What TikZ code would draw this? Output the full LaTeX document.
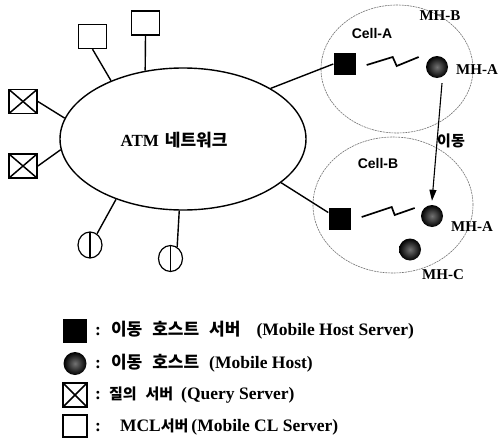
\documentclass[tikz,border=0pt]{standalone}
\usepackage{fontspec}
\setmainfont{Liberation Serif}
\newfontfamily\kr{Noto Sans CJK KR}
\newfontfamily\lsans{Liberation Sans}
\usetikzlibrary{shapes.geometric,arrows.meta,calc}
\newcommand{\krA}[1]{{\kr\bfseries\fontsize{17}{17}\selectfont #1}}
\newcommand{\krB}[1]{{\kr\bfseries\fontsize{15}{15}\selectfont #1}}
\begin{document}
\begin{tikzpicture}[x=1pt,y=-1pt,
  net/.style={draw, ellipse, line width=1.4pt, inner sep=0pt},
  link/.style={line width=1.4pt},
  mcl/.style={draw, line width=1.3pt, minimum width=28pt, minimum height=24pt, inner sep=0pt},
  qry/.style={mcl, line width=1.8pt, path picture={\draw[line width=1.5pt] (path picture bounding box.north west) -- (path picture bounding box.south east) (path picture bounding box.north east) -- (path picture bounding box.south west);}},
  oval/.style={draw, ellipse, line width=1.2pt, minimum width=24pt, minimum height=26pt, inner sep=0pt, path picture={\draw[line width=1.1pt] (path picture bounding box.north) -- (path picture bounding box.south);}},
  cell/.style={draw=black!55, ellipse, line width=0.6pt, dash pattern=on 2pt off 0.8pt, inner sep=0pt},
  mhs/.style={fill=black, minimum size=22pt, inner sep=0pt},
  mh/.style={circle, minimum size=22pt, inner sep=0pt, shade, shading=radial, inner color=black!55, outer color=black},
  lbl/.style={font=\bfseries\fontsize{15}{15}\selectfont, inner sep=0pt},
  slbl/.style={font=\lsans\bfseries\fontsize{14}{14}\selectfont, inner sep=0pt},
  leg/.style={font=\bfseries\fontsize{17.5}{17.5}\selectfont, inner sep=0pt, anchor=west},
  zig/.style={line width=1.7pt}
]
\useasboundingbox (0,0) rectangle (499,442);
\fill[white] (0,0) rectangle (499,442);

% ATM network
\node[net, minimum width=246pt, minimum height=142pt] (atm) at (183,139) {};
\node[lbl, font=\bfseries\fontsize{17}{17}\selectfont] (atmtxt) at (174,140) {ATM\hspace{6pt}\krA{네트워크}};

% MCL servers
\node[mcl] (m1) at (92.5,36.5) {};
\node[mcl] (m2) at (145.5,23) {};
% Query servers
\node[qry] (q1) at (23,101.5) {};
\node[qry] (q2) at (23,166) {};
% ovals
\node[oval] (o1) at (90,245) {};
\node[oval] (o2) at (170.5,258.5) {};

\draw[link] (m1.south) -- (atm.141.5);
\draw[link] (m2.south) -- (atm.119);
\draw[link] (q1.east) -- (atm.170);
\draw[link] (q2.east) -- (atm.185);
\draw[link] (o1.58) -- (atm.222);
\draw[link] (o2.60) -- (atm.267);

% Cell A
\node[cell, minimum width=152pt, minimum height=128pt] (cA) at (397,69) {};
\node[mhs] (sqA) at (344.5,64) {};
\node[mh] (mhA1) at (437,67) {};
\draw[link] (atm.30) -- (sqA.west);
\draw[zig] ($(sqA.east)+(11,1)$) -- ++(26,-8) -- ++(4,9) -- ++(22,-9);
\node[slbl] (la) at (372,33) {Cell-A};
\node[lbl] (lmhb) at (440,16) {MH-B};
\node[lbl] (lmha1) at (477,70) {MH-A};

% Cell B
\node[cell, minimum width=160pt, minimum height=136pt] (cB) at (393,205) {};
\node[mhs] (sqB) at (339.5,219) {};
\node[mh] (mhA2) at (432,216) {};
\node[mh] (mhC) at (410,249.5) {};
\draw[link] (atm.336.5) -- (sqB.150);
\draw[zig] ($(sqB.east)+(11,-2)$) -- ++(30,-10) -- ++(3,8) -- ++(20,-7);
\node[slbl] (lb) at (378,163) {Cell-B};
\node[lbl] (lmha2) at (472,227) {MH-A};
\node[lbl] (lmhc) at (443,275) {MH-C};

% movement
\draw[line width=1.1pt, -{Triangle[length=11pt,width=7pt]}] ($(mhA1.south)+(5,5)$) -- ($(mhA2.north)+(0,-4)$);
\node[inner sep=0pt] (mv) at (451,141) {\krB{이동}};

% Legend
\node[mhs, minimum size=24pt] (ls1) at (75,330.5) {};
\node[mh, minimum size=23pt] (ls2) at (75,363.5) {};
\node[qry, minimum width=24pt, minimum height=24pt] (ls3) at (75,395) {};
\node[mcl, minimum width=24pt, minimum height=22pt] (ls4) at (75,426) {};
\node[leg] (t1) at (95,330) {:\hspace{10pt}\krA{이동}\hspace{10pt}\krA{호스트}\hspace{10pt}\krA{서버}\hspace{16pt}(Mobile Host Server)};
\node[leg] (t2) at (95,363) {:\hspace{10pt}\krA{이동}\hspace{10pt}\krA{호스트}\hspace{10pt}(Mobile Host)};
\node[leg] (t3) at (95,395) {:\hspace{8pt}\krB{질의}\hspace{9pt}\krB{서버}\hspace{8pt}(Query Server)};
\node[leg] (t4) at (95,427) {:\hspace{19pt}MCL\krB{서버}\hspace{3pt}(Mobile CL Server)};
\end{tikzpicture}
\end{document}
